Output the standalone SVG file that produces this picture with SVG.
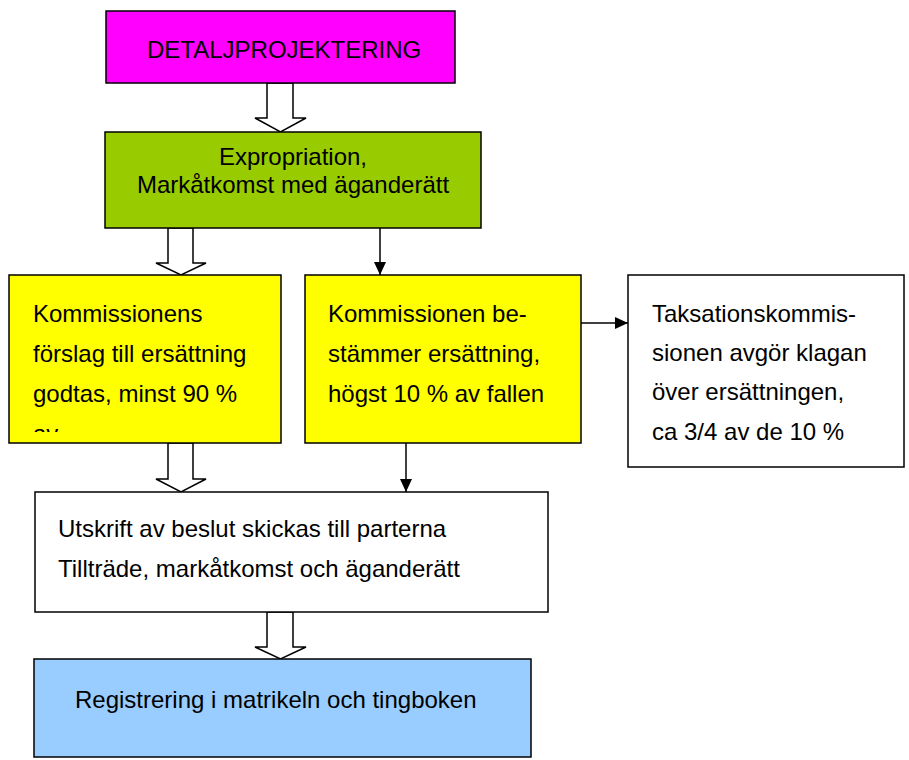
<svg xmlns="http://www.w3.org/2000/svg" width="909" height="760" viewBox="0 0 909 760">
  <style>
    .box { stroke: #000; stroke-width: 1.5; }
    .t { font-family: "Liberation Sans", Arial, sans-serif; font-size: 24px; fill: #000; }
    .block { fill: #fff; stroke: #000; stroke-width: 1.5; stroke-linejoin: miter; }
    .line { stroke: #000; stroke-width: 1.5; fill: none; }
  </style>
  <defs>
    <marker id="head" markerWidth="13" markerHeight="12" refX="13" refY="6" orient="auto" markerUnits="userSpaceOnUse">
      <path d="M0,0 L13,6 L0,12 Z" fill="#000"/>
    </marker>
    <clipPath id="clipK1">
      <rect x="10" y="276" width="270" height="156"/>
    </clipPath>
  </defs>

  <g id="connectors">
    <!-- block arrow: DETALJPROJEKTERING -> Expropriation -->
    <polygon class="block" points="267,83 293,83 293,118 306,118 280.5,132 255,118 267,118"/>
    <!-- block arrow: Expropriation -> Kommissionens förslag -->
    <polygon class="block" points="168,228 193,228 193,263 206,263 181,275 156,263 168,263"/>
    <!-- line arrow: Expropriation -> Kommissionen bestämmer -->
    <line class="line" x1="380" y1="228" x2="380" y2="275" marker-end="url(#head)"/>
    <!-- line arrow: Kommissionen bestämmer -> Taksationskommissionen -->
    <line class="line" x1="581" y1="323" x2="628" y2="323" marker-end="url(#head)"/>
    <!-- block arrow: Kommissionens förslag -> Utskrift -->
    <polygon class="block" points="168,443 193,443 193,479 206,479 181,492 156,479 168,479"/>
    <!-- line arrow: Kommissionen bestämmer -> Utskrift -->
    <line class="line" x1="406" y1="443" x2="406" y2="492" marker-end="url(#head)"/>
    <!-- block arrow: Utskrift -> Registrering -->
    <polygon class="block" points="267,612 293,612 293,647 306,647 280.5,659 255,647 267,647"/>
  </g>

  <g id="detaljprojektering">
    <rect class="box" x="106" y="11" width="349" height="72" fill="#FF00FF"/>
    <text class="t" x="147" y="58">DETALJPROJEKTERING</text>
  </g>

  <g id="expropriation">
    <rect class="box" x="105" y="132" width="376" height="96" fill="#99CC00"/>
    <text class="t" x="293" y="165" text-anchor="middle">Expropriation,</text>
    <text class="t" x="293" y="193" text-anchor="middle">Markåtkomst med äganderätt</text>
  </g>

  <g id="kommissionens-forslag">
    <rect class="box" x="9" y="275" width="272" height="168" fill="#FFFF00"/>
    <g clip-path="url(#clipK1)">
      <text class="t" x="33" y="322">Kommissionens</text>
      <text class="t" x="33" y="362">förslag till ersättning</text>
      <text class="t" x="33" y="402">godtas, minst 90 %</text>
      <text class="t" x="33" y="442">av</text>
    </g>
  </g>

  <g id="kommissionen-bestammer">
    <rect class="box" x="305" y="275" width="276" height="168" fill="#FFFF00"/>
    <text class="t" x="328" y="322">Kommissionen be-</text>
    <text class="t" x="328" y="362">stämmer ersättning,</text>
    <text class="t" x="328" y="402">högst 10 % av fallen</text>
  </g>

  <g id="taksationskommissionen">
    <rect class="box" x="628" y="275" width="276" height="192" fill="#FFFFFF"/>
    <text class="t" x="652" y="322">Taksationskommis-</text>
    <text class="t" x="652" y="361">sionen avgör klagan</text>
    <text class="t" x="652" y="400">över ersättningen,</text>
    <text class="t" x="652" y="440">ca 3/4 av de 10 %</text>
  </g>

  <g id="utskrift">
    <rect class="box" x="35" y="492" width="513" height="120" fill="#FFFFFF"/>
    <text class="t" x="58" y="537">Utskrift av beslut skickas till parterna</text>
    <text class="t" x="58" y="577">Tillträde, markåtkomst och äganderätt</text>
  </g>

  <g id="registrering">
    <rect class="box" x="34" y="659" width="497" height="98" fill="#99CCFF"/>
    <text class="t" x="75" y="708">Registrering i matrikeln och tingboken</text>
  </g>
</svg>
